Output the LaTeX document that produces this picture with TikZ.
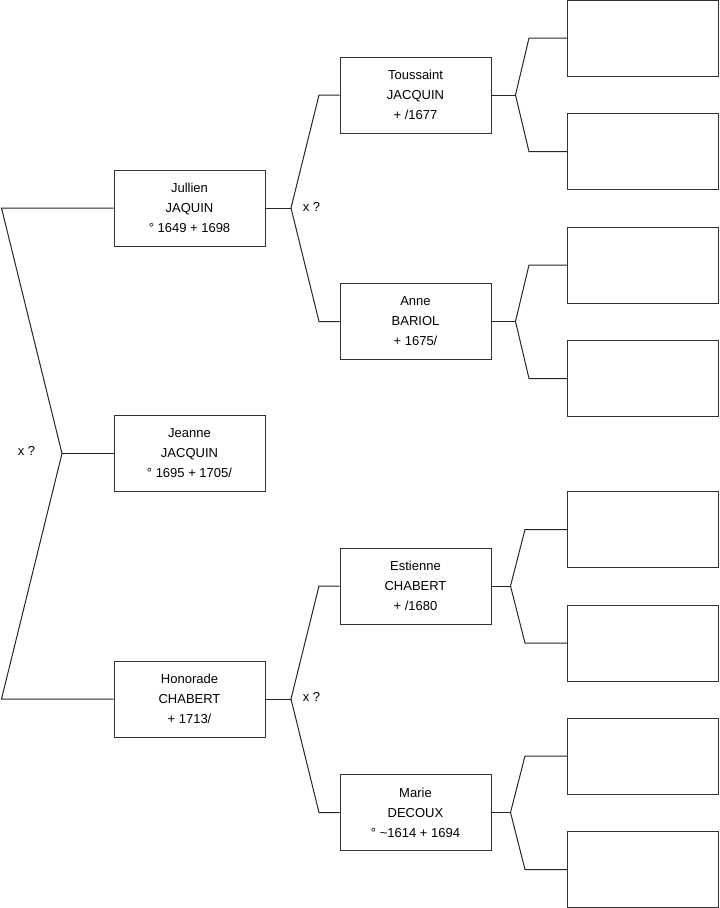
\documentclass[tikz,border=0pt]{standalone}
\usepackage{fontspec}
\setmainfont{Liberation Sans}
\begin{document}
\begin{tikzpicture}[x=0.75pt,y=-0.75pt,
  pbox/.style={draw=black!80, line width=0.75pt, minimum width=113.25pt, minimum height=57pt,
    inner sep=0pt, align=center, font=\fontsize{9.75pt}{15pt}\selectfont},
  conn/.style={draw=black!85, line width=0.75pt},
  lbl/.style={font=\fontsize{9.75pt}{15pt}\selectfont, inner sep=0pt}]
\useasboundingbox (0,0) rectangle (719,908);

% generation 1
\node[pbox] (jeanne) at (189.5,453.5) {Jeanne\\JACQUIN\\° 1695 + 1705/};
% generation 2
\node[pbox] (jullien) at (189.5,208) {Jullien\\JAQUIN\\° 1649 + 1698};
\node[pbox] (honorade) at (189.5,699) {Honorade\\CHABERT\\+ 1713/};
% generation 3
\node[pbox] (toussaint) at (415.5,95) {Toussaint\\JACQUIN\\+ /1677};
\node[pbox] (anne) at (415.5,321.5) {Anne\\BARIOL\\+ 1675/};
\node[pbox] (estienne) at (415.5,586) {Estienne\\CHABERT\\+ /1680};
\node[pbox] (marie) at (415.5,812.5) {Marie\\DECOUX\\° \char`~1614 + 1694};
% generation 4 (empty)
\node[pbox] (r1) at (642.75,38) {};
\node[pbox] (r2) at (642.75,151.7) {};
\node[pbox] (r3) at (642.75,265) {};
\node[pbox] (r4) at (642.75,378.5) {};
\node[pbox] (r5) at (642.75,529.5) {};
\node[pbox] (r6) at (642.75,643) {};
\node[pbox] (r7) at (642.75,756) {};
\node[pbox] (r8) at (642.75,869.5) {};

% labels
\node[lbl] (x0) at (26.5,451) {x ?};
\node[lbl] (x1) at (311.5,207) {x ?};
\node[lbl] (x2) at (311.5,697) {x ?};

% junction coordinates
\coordinate (L1) at (1.5,208);
\coordinate (L2) at (62,453.5);
\coordinate (L3) at (1.5,699);

\coordinate (a0) at (291,208);
\coordinate (a1) at (319,95);
\coordinate (a2) at (319,321.5);
\coordinate (b0) at (291,699);
\coordinate (b1) at (319,586);
\coordinate (b2) at (319,812.5);

\coordinate (t0) at (515.5,95);
\coordinate (t1) at (529,38);
\coordinate (t2) at (529,151.7);
\coordinate (n0) at (515.5,321.5);
\coordinate (n1) at (529,265);
\coordinate (n2) at (529,378.5);
\coordinate (e0) at (510.5,586);
\coordinate (e1) at (525,529.5);
\coordinate (e2) at (525,643);
\coordinate (m0) at (510.5,812.5);
\coordinate (m1) at (525,756);
\coordinate (m2) at (525,869.5);

% connectors
\draw[conn] (jullien.west) -- (L1) -- (L2) -- (L3) -- (honorade.west);
\draw[conn] (L2) -- (jeanne.west);

\draw[conn] (jullien.east) -- (a0);
\draw[conn] (toussaint.west) -- (a1) -- (a0) -- (a2) -- (anne.west);
\draw[conn] (honorade.east) -- (b0);
\draw[conn] (estienne.west) -- (b1) -- (b0) -- (b2) -- (marie.west);

\draw[conn] (toussaint.east) -- (t0);
\draw[conn] (r1.west) -- (t1) -- (t0) -- (t2) -- (r2.west);
\draw[conn] (anne.east) -- (n0);
\draw[conn] (r3.west) -- (n1) -- (n0) -- (n2) -- (r4.west);
\draw[conn] (estienne.east) -- (e0);
\draw[conn] (r5.west) -- (e1) -- (e0) -- (e2) -- (r6.west);
\draw[conn] (marie.east) -- (m0);
\draw[conn] (r7.west) -- (m1) -- (m0) -- (m2) -- (r8.west);
\end{tikzpicture}
\end{document}
